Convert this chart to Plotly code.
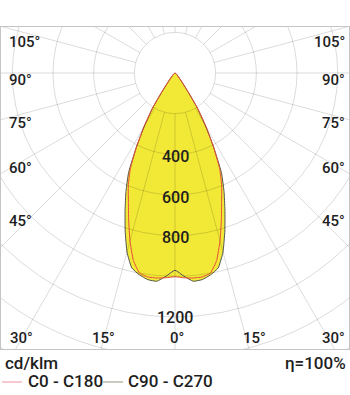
import numpy as np
import plotly.graph_objects as go

# ---------------- data ----------------
gamma_deg = [0, 2.5, 5, 7.5, 10, 12.5, 15, 17.5, 20, 22.5, 25, 27.5, 30, 32.5, 35, 37.5,
             40, 45, 60, 75, 90]
c0_c180 = [1002, 1008, 1012, 1012, 1000, 945, 855, 758, 670, 600, 520, 410, 305, 212, 108, 0,
           0, 0, 0, 0, 0]
c90_c270 = [970, 1000, 1028, 1025, 1008, 982, 912, 815, 718, 630, 540, 412, 300, 205, 102, 0,
            0, 0, 0, 0, 0]
radial_ticks = [200, 400, 600, 800, 1000, 1200, 1400, 1600, 1800, 2000]
radial_labels = [400, 600, 800, 1200]
angle_ticks = list(range(0, 360, 15))
unit_text = "cd/klm"
eff_text = "η=100%"
series_names = ["C0 - C180", "C90 - C270"]

# ---------------- geometry / style ----------------
W, H = 350, 395
ML, MR, MT, MB = 1, 1, 27, 46
CX, CY = 175, 73            # polar centre in page pixels
S = 244 / 1200              # pixels per cd
FONT = "Roboto"
TXT = "#1e1e1e"
YELLOW = "#f2e836"
RED = "#e8503a"
DARK = "#55554d"
GRID = "rgba(0,0,0,0.14)"


def xr(px):
    return (px - CX) / S


def yr(py):
    return (CY - py) / S


def closed_curve(vals):
    g = np.radians(np.array(gamma_deg, dtype=float))
    v = np.array(vals, dtype=float)
    keep = v > 0
    g, v = g[keep], v[keep]
    xr_ = v * np.sin(g)
    yr_ = -v * np.cos(g)
    # centre -> left half (reverse order) -> right half -> centre
    xs = np.concatenate([[0.0], -xr_[::-1], xr_[1:], [0.0]])
    ys = np.concatenate([[0.0], yr_[::-1], yr_[1:], [0.0]])
    return xs, ys


fig = go.Figure()
curves = [(c0_c180, RED), (c90_c270, DARK)]
line_shape = dict(shape="spline", smoothing=0.4)

for vals, col in curves:
    xs, ys = closed_curve(vals)
    fig.add_trace(go.Scatter(x=xs, y=ys, mode="lines", fill="toself",
                             fillcolor=YELLOW, line=dict(width=0, **line_shape),
                             hoverinfo="skip", showlegend=False))
for vals, col in curves[::-1]:
    xs, ys = closed_curve(vals)
    fig.add_trace(go.Scatter(x=xs, y=ys, mode="lines",
                             line=dict(width=1, color=col, **line_shape),
                             hoverinfo="skip", showlegend=False))

shapes = []
for r in radial_ticks:
    shapes.append(dict(type="circle", xref="x", yref="y", x0=-r, x1=r, y0=-r, y1=r,
                       line=dict(color=GRID, width=1), layer="above"))
r_in = radial_ticks[0]
for a in angle_ticks:
    t = np.radians(a)
    shapes.append(dict(type="line", xref="x", yref="y",
                       x0=r_in * np.sin(t), y0=-r_in * np.cos(t),
                       x1=4000 * np.sin(t), y1=-4000 * np.cos(t),
                       line=dict(color=GRID, width=1), layer="above"))

LBL = dict(family=FONT, size=15, color=TXT, weight=500)
ann = []
for r in radial_labels:
    ann.append(dict(x=0, y=-r, xref="x", yref="y", text=str(r), showarrow=False,
                    xanchor="center", yanchor="middle", yshift=(-2 if r < 1000 else 0),
                    font=dict(family=FONT, size=16, color=TXT, weight=500)))

side_labels = [(105, 42), (90, 80), (75, 123), (60, 168), (45, 221)]
for ang, py in side_labels:
    ann.append(dict(x=xr(7), y=yr(py), xref="x", yref="y", text=f"{ang}°", showarrow=False,
                    xanchor="left", yanchor="middle", font=LBL))
    ann.append(dict(x=xr(347), y=yr(py), xref="x", yref="y", text=f"{ang}°", showarrow=False,
                    xanchor="right", yanchor="middle", font=LBL))
bottom_labels = [(30, 8, "left"), (15, 103, "center"), (0, 177, "center"),
                 (15, 254, "center"), (30, 347, "right")]
for ang, px, anc in bottom_labels:
    ann.append(dict(x=xr(px), y=yr(337.5), xref="x", yref="y", text=f"{ang}°", showarrow=False,
                    xanchor=anc, yanchor="middle", font=LBL))


# footer (unit, efficiency, legend)
def py2paper(py):
    return (H - MB - py) / (H - MT - MB)


def px2paper(px):
    return (px - ML) / (W - ML - MR)


FOOT = dict(family=FONT, size=17, color=TXT, weight=500)
ann.append(dict(x=px2paper(3), y=py2paper(363), xref="paper", yref="paper", text=unit_text,
                showarrow=False, xanchor="left", yanchor="middle", font=FOOT))
ann.append(dict(x=px2paper(348), y=py2paper(363), xref="paper", yref="paper", text=eff_text,
                showarrow=False, xanchor="right", yanchor="middle", font=FOOT))
leg = [(series_names[0], "#f4b6be", 2, 22, 26), (series_names[1], "#b9b9aa", 103, 123, 126)]
for name, col, lx0, lx1, tx in leg:
    shapes.append(dict(type="line", xref="paper", yref="paper",
                       x0=px2paper(lx0), x1=px2paper(lx1), y0=py2paper(382), y1=py2paper(382),
                       line=dict(color=col, width=1.5)))
    ann.append(dict(x=px2paper(tx), y=py2paper(381), xref="paper", yref="paper", text=name,
                    showarrow=False, xanchor="left", yanchor="middle", font=FOOT))

fig.update_layout(
    width=W, height=H,
    margin=dict(l=ML, r=MR, t=MT, b=MB, pad=0),
    paper_bgcolor="white", plot_bgcolor="white",
    shapes=shapes, annotations=ann, showlegend=False,
    xaxis=dict(range=[xr(ML), xr(W - MR)], showgrid=False, zeroline=False,
               showticklabels=False, ticks="", showline=True, mirror=True,
               linecolor="#c4c4c4", linewidth=1, fixedrange=True),
    yaxis=dict(range=[yr(H - MB), yr(MT)], showgrid=False, zeroline=False,
               showticklabels=False, ticks="", showline=True, mirror=True,
               linecolor="#c4c4c4", linewidth=1, fixedrange=True),
)

fig.write_html("out.html")
